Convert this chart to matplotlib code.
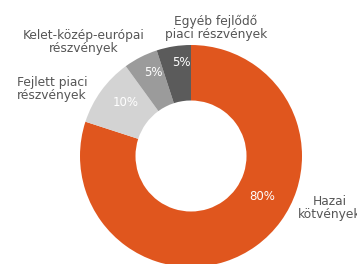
import matplotlib
matplotlib.use("Agg")
import matplotlib.pyplot as plt

# asset allocation shares (%)
categories = [
    "Hazai\nkötvények",
    "Fejlett piaci\nrészvények",
    "Kelet-közép-európai\nrészvények",
    "Egyéb fejlődő\npiaci részvények",
]
shares = [80, 10, 5, 5]
colors = ["#E0561E", "#D3D3D3", "#9B9B9B", "#5B5B5B"]

W, H = 357, 264
CX, CY, R = 191, 156, 111  # donut center / radius in pixels (y from top)

plt.rcParams["font.family"] = ["DejaVu Sans"]

fig = plt.figure(figsize=(W / 100, H / 100), dpi=100)
ax = fig.add_axes([(CX - R) / W, (H - CY - R) / H, 2 * R / W, 2 * R / H])

wedges, _ = ax.pie(
    shares,
    colors=colors,
    startangle=90,
    counterclock=False,
    radius=1.0,
    wedgeprops=dict(width=0.5, edgecolor="none"),
)
ax.set_xlim(-1, 1)
ax.set_ylim(-1, 1)
ax.set_aspect("equal")
ax.axis("off")


def px(x, y):
    """pixel position (y from top) -> data coords of the pie axes"""
    return (x - CX) / R, (CY - y) / R


# percentage labels inside the ring
pct_pos = [(262, 197), (126, 103), (153, 72), (181, 63)]
for val, (x, y) in zip(shares, pct_pos):
    dx, dy = px(x, y)
    ax.text(dx, dy, f"{val}%", color="white", fontsize=8.5,
            ha="center", va="center", clip_on=False)

# category labels outside
cat_pos = [(330, 208, "center"), (17, 89, "left"),
           (84, 42, "center"), (216, 28, "center")]
for name, (x, y, ha) in zip(categories, cat_pos):
    dx, dy = px(x, y)
    ax.text(dx, dy, name, color="#555555", fontsize=8.8, ha=ha, va="center",
            multialignment=ha, linespacing=1.05, clip_on=False)

fig.savefig("out.png", dpi=100, facecolor="white")
